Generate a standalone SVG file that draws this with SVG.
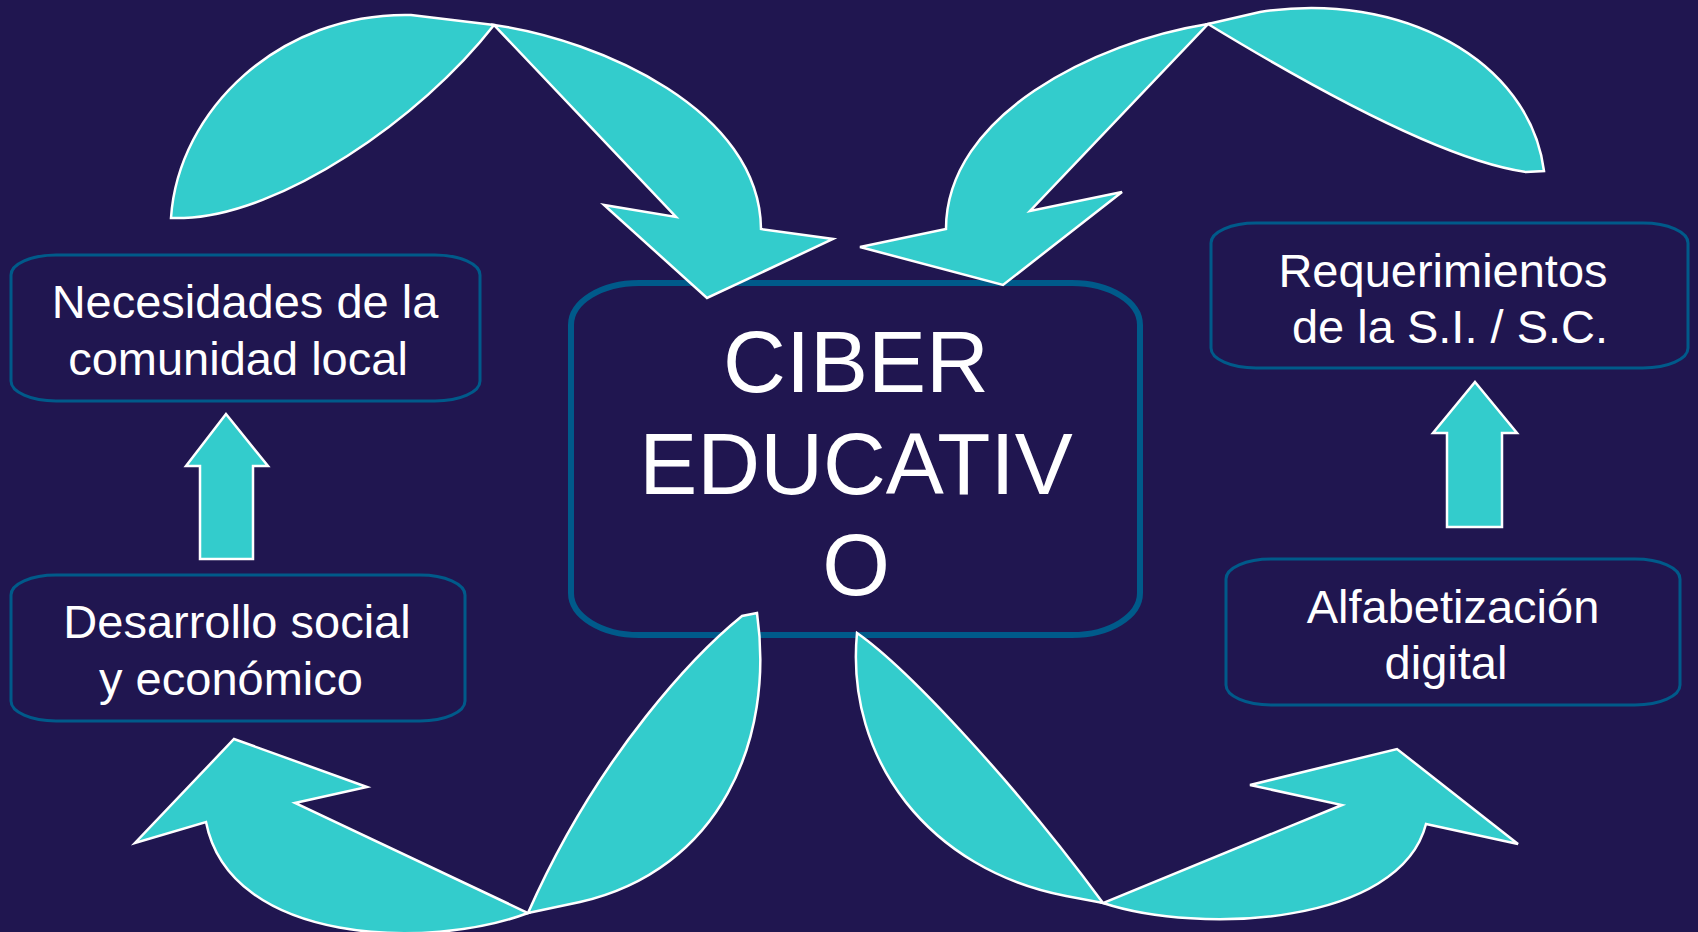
<svg xmlns="http://www.w3.org/2000/svg" width="1698" height="932" viewBox="0 0 1698 932">
<style>
.bg{fill:#201650}
.arrow{fill:#33CCCC;stroke:#FFFFFF;stroke-width:2.5;stroke-linejoin:miter}
.box{fill:#201650;stroke:#005A8A;stroke-width:3}
.main{fill:#201650;stroke:#005A8A;stroke-width:6}
.t{fill:#FFFFFF;font-family:"Liberation Sans",Arial,sans-serif;font-size:47px;text-anchor:middle}
.tm{fill:#FFFFFF;font-family:"Liberation Sans",Arial,sans-serif;font-size:87px;text-anchor:middle}
</style>
<rect class="bg" x="0" y="0" width="1698" height="932"/>
<g id="ciber">
  <rect class="main" x="571" y="283" width="569" height="352" rx="68" ry="42"/>
  <text class="tm" x="856" y="392">CIBER</text>
  <text class="tm" x="856" y="494">EDUCATIV</text>
  <text class="tm" x="856" y="595">O</text>
</g>
<g id="necesidades">
  <rect class="box" x="11" y="255" width="469" height="146" rx="45" ry="20"/>
  <text class="t" x="245" y="318">Necesidades de la</text>
  <text class="t" x="238" y="375">comunidad local</text>
</g>
<g id="desarrollo">
  <rect class="box" x="11" y="575" width="454" height="146" rx="45" ry="20"/>
  <text class="t" x="237" y="638">Desarrollo social</text>
  <text class="t" x="231" y="695">y económico</text>
</g>
<g id="requerimientos">
  <rect class="box" x="1211" y="223" width="477" height="145" rx="45" ry="20"/>
  <text class="t" x="1443" y="287">Requerimientos</text>
  <text class="t" x="1450" y="343">de la S.I. / S.C.</text>
</g>
<g id="alfabetizacion">
  <rect class="box" x="1226" y="559" width="454" height="146" rx="45" ry="20"/>
  <text class="t" x="1453" y="623">Alfabetización</text>
  <text class="t" x="1446" y="679">digital</text>
</g>
<g id="connectors">
  <path class="arrow" d="M171,218 C178,110 280,12 411,15 L494,25 C420,120 280,215 184,218 Z"/>
  <path class="arrow" d="M494,25 C600,40 760,110 761,229 L833,239 L707,298 L604,205 L676,217 Z"/>
  <path class="arrow" d="M1208,24 L1260,12 C1400,-10 1530,60 1544,171 L1526,172 C1440,160 1300,80 1208,24 Z"/>
  <path class="arrow" d="M1208,24 C1095,42 946,115 946,229 L860,247 L1003,285 L1122,192 L1030,211 Z"/>
  <path class="arrow" d="M757,613 C775,740 720,870 580,902 L528,913 C600,750 700,650 742,616 Z"/>
  <path class="arrow" d="M528,913 C430,950 230,945 206,822 L135,843 L234,739 L367,787 L295,803 Z"/>
  <path class="arrow" d="M857,633 C845,760 930,870 1066,896 L1103,903 C1020,790 910,670 857,633 Z"/>
  <path class="arrow" d="M1103,903 C1200,935 1400,925 1426,824 L1518,844 L1397,749 L1250,785 L1342,805 Z"/>
  <path class="arrow" d="M226,414 L268,466 L253,466 L253,559 L200,559 L200,466 L186,466 Z"/>
  <path class="arrow" d="M1475,382 L1517,433 L1502,433 L1502,527 L1447,527 L1447,433 L1433,433 Z"/>
</g>
</svg>
